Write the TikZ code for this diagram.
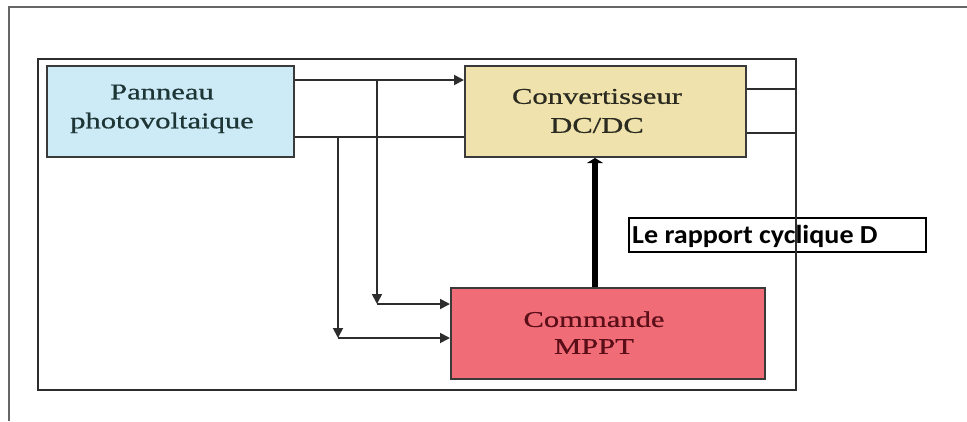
\documentclass[tikz,border=0pt]{standalone}
\usepackage{fontspec}
\usepackage{graphicx}
\setmainfont{Liberation Serif}[FakeBold=0.6]
\newfontfamily\labfont{Carlito}
\usetikzlibrary{arrows.meta}
\definecolor{panfill}{RGB}{205,234,247}
\definecolor{convfill}{RGB}{239,226,172}
\definecolor{cmdfill}{RGB}{240,108,118}
\definecolor{boxline}{RGB}{58,58,58}
\definecolor{wire}{RGB}{45,45,45}
\definecolor{pantext}{RGB}{30,53,53}
\definecolor{convtext}{RGB}{42,42,32}
\definecolor{cmdtext}{RGB}{90,14,24}
\tikzset{
  blockbox/.style={draw=boxline, line width=2pt, inner sep=0pt},
  blocktext/.style={inner sep=0pt, font=\fontsize{22.5}{29}\selectfont},
  wireline/.style={draw=wire, line width=1.8pt},
  wirearrow/.style={wireline, -{Triangle[length=10pt,width=10pt]}},
  thickarrow/.style={draw=black, line width=6.5pt, -{Triangle[length=5pt,width=16pt]}},
  framel/.style={draw=wire, line width=2pt},
}
\newcommand{\wide}[1]{\scalebox{1.36}[1]{\begin{tabular}{@{}c@{}}#1\end{tabular}}}
\begin{document}
\begin{tikzpicture}[x=1pt,y=-1pt]
\useasboundingbox (0,0) rectangle (967,421);
% outer L frame
\draw[draw=gray!80!black, line width=1.4pt] (9,421) -- (9,7) -- (967,7);
% boxes
\node[blockbox, fill=panfill, minimum width=247pt, minimum height=91pt] (pan) at (170.5,111.5) {};
\node[blockbox, fill=convfill, minimum width=281pt, minimum height=91pt] (conv) at (605.5,111.5) {};
\node[blockbox, fill=cmdfill, minimum width=314pt, minimum height=91pt] (cmd) at (608,333.5) {};
% texts
\node[blocktext, text=pantext] (panT) at (162,108) {\wide{Panneau\\photovoltaique}};
\node[blocktext, text=convtext] (convT) at (597,112.5) {\wide{Convertisseur\\DC/DC}};
\node[blocktext, text=cmdtext, font=\fontsize{22.5}{27}\selectfont] (cmdT) at (594,335) {\wide{Commande\\MPPT}};
% label
\node[draw=black, line width=1.5pt, minimum width=297pt, minimum height=34pt, inner sep=0pt] (lab) at (777.5,235) {};
\node[anchor=west, inner sep=0pt, font=\labfont\bfseries\fontsize{26}{30}\selectfont] (labT) at (632,236.5) {\scalebox{1.08}[1]{Le rapport cyclique D}};
% coordinates
\coordinate (y80) at (0,80);
\coordinate (y137) at (0,137);
\coordinate (y89) at (0,89);
\coordinate (y133) at (0,133);
\coordinate (j1) at (377,80);
\coordinate (k1) at (377,304);
\coordinate (j2) at (338,137);
\coordinate (k2) at (338,338);
\coordinate (fr) at (796,0);
% connectors
\draw[wirearrow] (pan.east |- y80) -- (conv.west |- y80);
\draw[wireline] (pan.east |- y137) -- (conv.west |- y137);
\draw[wirearrow] (j1) -- (k1);
\draw[wirearrow] (k1) -- (cmd.west |- k1);
\draw[wirearrow] (j2) -- (k2);
\draw[wirearrow] (k2) -- (cmd.west |- k2);
\draw[wireline] (conv.east |- y89) -- (fr |- y89);
\draw[wireline] (conv.east |- y133) -- (fr |- y133);
\draw[thickarrow] (cmd.north -| 595,0) -- (conv.south -| 595,0);
% inner frame
\draw[framel] (38,59) rectangle (796,390);
\end{tikzpicture}
\end{document}
